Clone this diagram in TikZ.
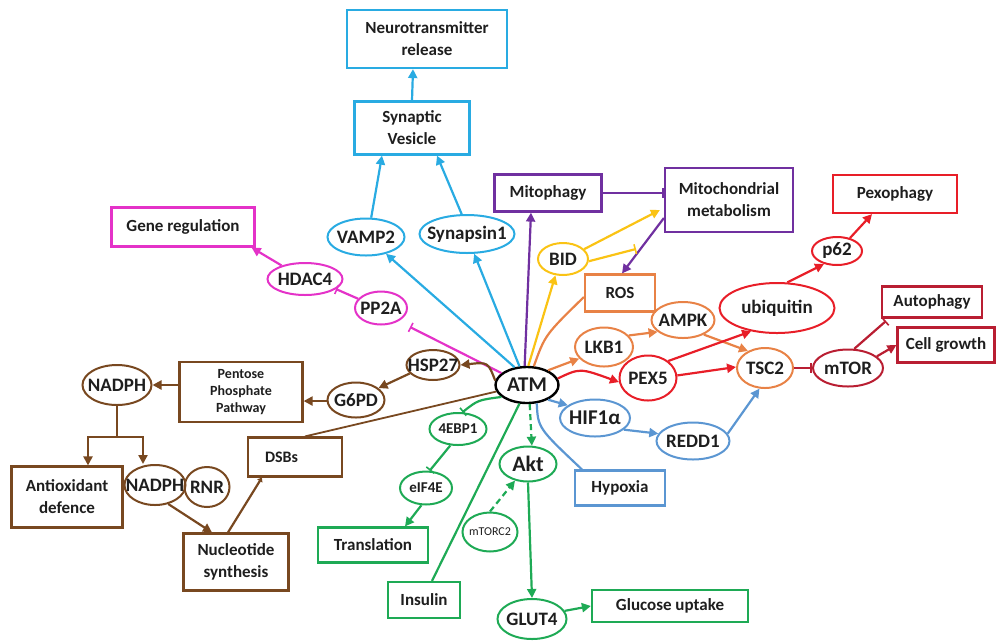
\documentclass[tikz,border=0pt]{standalone}
\usepackage{fontspec}
\setmainfont{Carlito}
\usetikzlibrary{arrows.meta,shapes.geometric,calc}
\definecolor{cyanC}{RGB}{41,171,226}
\definecolor{purpC}{RGB}{112,48,160}
\definecolor{yelC}{RGB}{250,195,20}
\definecolor{orC}{RGB}{232,130,70}
\definecolor{redC}{RGB}{232,30,40}
\definecolor{dredC}{RGB}{185,30,50}
\definecolor{lblueC}{RGB}{91,150,210}
\definecolor{greenC}{RGB}{30,170,85}
\definecolor{magC}{RGB}{228,50,200}
\definecolor{brownC}{RGB}{120,72,32}
\definecolor{txt}{RGB}{30,30,30}
\newcommand\ctext[1]{\makebox[0pt]{#1}}
\begin{document}
\begin{tikzpicture}[x=1pt,y=-1pt,
  ell/.style={ellipse, draw, line width=2pt, inner sep=0pt, text=txt, font=\bfseries\fontsize{19}{21}\selectfont},
  bx/.style={rectangle, draw, line width=2.2pt, inner sep=2pt, text=txt, align=center, font=\bfseries\fontsize{17}{22}\selectfont},
  con/.style={line width=2.2pt},
  arr/.style={con, -{Triangle[length=9pt,width=9pt]}},
  inh/.style={con, -{Bar[width=10pt,line width=1.6pt]}}]
\useasboundingbox (0,0) rectangle (998,641);

% ---- boxes ----
\node[bx, draw=cyanC, minimum width=160, minimum height=58] (NR) at (427,39) {Neurotransmitter\\release};
\node[bx, draw=cyanC, minimum width=115, minimum height=53] (SV) at (412,128) {Synaptic\\Vesicle};
\node[bx, draw=purpC, minimum width=107, minimum height=37] (Mito) at (548,193) {Mitophagy};
\node[bx, draw=purpC, minimum width=128, minimum height=64] (MM) at (729,200) {Mitochondrial\\metabolism};
\node[bx, draw=orC, minimum width=70, minimum height=37] (ROS) at (620,293) {ROS};
\node[bx, draw=redC, minimum width=124, minimum height=38] (Pex) at (895,194) {Pexophagy};
\node[bx, draw=dredC, minimum width=100, minimum height=31] (Auto) at (932,302) {Autophagy};
\node[bx, draw=dredC, minimum width=97, minimum height=35] (CG) at (946,345) {Cell growth};
\node[bx, draw=lblueC, minimum width=90, minimum height=35] (Hyp) at (620,488) {Hypoxia};
\node[bx, draw=greenC, minimum width=110, minimum height=35] (Tr) at (373,545) {Translation};
\node[bx, draw=greenC, minimum width=72, minimum height=36] (Ins) at (424,600) {Insulin};
\node[bx, draw=greenC, minimum width=156, minimum height=32] (GU) at (670,606) {Glucose uptake};
\node[bx, draw=magC, minimum width=143, minimum height=39] (GR) at (183,227) {Gene regulation};
\node[bx, draw=brownC, minimum width=123, minimum height=60, font=\bfseries\fontsize{14}{17}\selectfont] (PPP) at (241,392) {Pentose\\Phosphate\\Pathway};
\node[bx, draw=brownC, minimum width=111, minimum height=61] (AO) at (67,497) {Antioxidant\\defence};
\node[bx, draw=brownC, minimum width=105, minimum height=57] (NS) at (236,562) {Nucleotide\\synthesis};
\node[bx, draw=brownC, minimum width=94, minimum height=39, text width=60, inner xsep=17, align=left, font=\bfseries\fontsize{16}{18}\selectfont] (DSB) at (295,457) {DSBs};

% ---- ellipses ----
\node[ell, draw=cyanC, minimum width=77, minimum height=37] (VAMP2) at (366,237) {\ctext{VAMP2}};
\node[ell, draw=cyanC, minimum width=95, minimum height=38] (Syn) at (467,234) {\ctext{Synapsin1}};
\node[ell, draw=yelC, minimum width=50, minimum height=32] (BID) at (563,259) {\ctext{BID}};
\node[ell, draw=orC, minimum width=63, minimum height=36] (AMPK) at (683,320) {\ctext{AMPK}};
\node[ell, draw=redC, minimum width=115, minimum height=50] (ubiq) at (777,308) {\ctext{ubiquitin}};
\node[ell, draw=redC, minimum width=50, minimum height=28] (p62) at (837,251) {\ctext{p62}};
\node[ell, draw=orC, minimum width=58, minimum height=39] (LKB1) at (604,347) {\ctext{LKB1}};
\node[ell, draw=redC, minimum width=57, minimum height=45] (PEX5) at (648,378) {\ctext{PEX5}};
\node[ell, draw=orC, minimum width=56, minimum height=40] (TSC2) at (765,368) {\ctext{TSC2}};
\node[ell, draw=dredC, minimum width=70, minimum height=37] (mTOR) at (848,368) {\ctext{mTOR}};
\node[ell, draw=lblueC, minimum width=70, minimum height=37, font=\bfseries\fontsize{21}{23}\selectfont] (HIF) at (595,418) {\ctext{HIF1α}};
\node[ell, draw=lblueC, minimum width=73, minimum height=37] (REDD1) at (693,441) {\ctext{REDD1}};
\node[ell, draw=black, line width=2.4pt, minimum width=63, minimum height=36, font=\bfseries\fontsize{21}{23}\selectfont] (ATM) at (527,385) {\ctext{ATM}};
\node[ell, draw=brownC, minimum width=53, minimum height=30] (HSP27) at (433,365) {\ctext{HSP27}};
\node[ell, draw=brownC, minimum width=57, minimum height=35] (G6PD) at (356,400) {\ctext{G6PD}};
\node[ell, draw=greenC, minimum width=57, minimum height=32, font=\bfseries\fontsize{15}{17}\selectfont] (EBP) at (458,429) {\ctext{4EBP1}};
\node[ell, draw=greenC, minimum width=52, minimum height=33, font=\bfseries\fontsize{15}{17}\selectfont] (eIF) at (426,488) {\ctext{eIF4E}};
\node[ell, draw=greenC, minimum width=57, minimum height=35, font=\bfseries\fontsize{22}{24}\selectfont] (Akt) at (528,464) {\ctext{Akt}};
\node[ell, draw=greenC, minimum width=55, minimum height=39, font=\fontsize{12}{14}\selectfont] (mTORC2) at (490,532) {\ctext{mTORC2}};
\node[ell, draw=greenC, minimum width=69, minimum height=40] (GLUT4) at (532,619) {\ctext{GLUT4}};
\node[ell, draw=magC, minimum width=75, minimum height=32] (HDAC4) at (305,279) {\ctext{HDAC4}};
\node[ell, draw=magC, minimum width=52, minimum height=33] (PP2A) at (381,308) {\ctext{PP2A}};
\node[ell, draw=brownC, minimum width=69, minimum height=40] (NADPHa) at (117,385) {\ctext{NADPH}};
\node[ell, draw=brownC, minimum width=61, minimum height=40] (NADPHb) at (155,485) {\ctext{NADPH}};
\node[ell, draw=brownC, minimum width=45, minimum height=40] (RNR) at (207,487) {\ctext{RNR}};

% free ends
\coordinate (bidbar) at (636,249);
\coordinate (autobar) at (886,321);
\coordinate (ppbar) at (410,327);
\coordinate (nj) at (117,437);

% ---- cyan ----
\draw[arr, cyanC] (ATM.125) -- (VAMP2.-40);
\draw[arr, cyanC] (ATM.112) -- (Syn.-70);
\draw[arr, cyanC] (VAMP2.75) -- ([xshift=-30pt]SV.south);
\draw[arr, cyanC] (Syn.105) -- ([xshift=25pt]SV.south);
\draw[arr, cyanC] (SV.north) -- ([xshift=-14pt]NR.south);
% ---- purple ----
\draw[arr, purpC] (ATM.97) -- ([xshift=-17pt]Mito.south);
\draw[inh, purpC] (Mito.east) -- (Mito.east -| MM.west);
\draw[arr, purpC] ([yshift=-18pt]MM.west) -- ([xshift=2pt]ROS.north);
% ---- yellow ----
\draw[arr, yelC] (ATM.86) -- (BID.-115);
\draw[arr, yelC] (BID.25) -- ([xshift=-4pt,yshift=-10pt]MM.west);
\draw[inh, yelC] (BID.-5) -- (bidbar);
% ---- orange ----
\draw[con, orC] (ATM.70) .. controls (545,335) .. ([yshift=-4pt]ROS.west);
\draw[arr, orC] (ATM.35) -- (LKB1.205);
\draw[arr, orC] (LKB1.25) -- (AMPK.205);
\draw[arr, orC] (AMPK.-35) -- (TSC2.135);
% ---- red ----
\draw[arr, redC] (ATM.12) .. controls (580,368) .. (PEX5.188);
\draw[arr, redC] (PEX5.40) -- (ubiq.222);
\draw[arr, redC] (PEX5.5) -- (TSC2.178);
\draw[arr, redC] (ubiq.68) -- (p62.225);
\draw[arr, redC] (p62.45) -- ([xshift=-23pt]Pex.south);
% ---- dark red ----
\draw[inh, dredC] (TSC2.east) -- (mTOR.west);
\draw[inh, dredC] (mTOR.72) -- (autobar);
\draw[arr, dredC] (mTOR.22) -- (CG.west);
% ---- light blue ----
\draw[arr, lblueC] (ATM.-35) -- (HIF.155);
\draw[arr, lblueC] (HIF.-22) -- (REDD1.168);
\draw[arr, lblueC] (REDD1.12) -- (TSC2.-105);
\draw[con, lblueC] (ATM.-62) .. controls (538,428) .. ([xshift=8pt]Hyp.north west);
% ---- green ----
\draw[inh, greenC] (ATM.205) .. controls (478,400) .. (EBP.75);
\draw[inh, greenC] (EBP.-115) -- (eIF.78);
\draw[arr, greenC] (eIF.-105) -- ([xshift=32pt]Tr.north);
\draw[con, greenC] ([xshift=8pt]Ins.north) -- (ATM.-112);
\draw[arr, greenC, dash pattern=on 6pt off 4pt] (ATM.-82) -- (Akt.78);
\draw[arr, greenC, dash pattern=on 6pt off 4pt] (mTORC2.north) -- (Akt.-128);
\draw[arr, greenC] (Akt.south) -- (GLUT4.north);
\draw[arr, greenC] (GLUT4.14) -- (GU.west);
% ---- magenta ----
\draw[inh, magC] (ATM.155) -- (ppbar);
\draw[inh, magC] (PP2A.158) -- (HDAC4.-18);
\draw[arr, magC] (HDAC4.150) -- ([xshift=-4pt]GR.south east);
% ---- brown ----
\draw[arr, brownC] (ATM.172) .. controls (488,362) .. (HSP27.east);
\draw[arr, brownC] (HSP27.200) -- (G6PD.28);
\draw[arr, brownC] (G6PD.182) -- (G6PD.182 -| PPP.east);
\draw[arr, brownC] (PPP.west |- NADPHa.east) -- (NADPHa.east);
\draw[con, brownC] (NADPHa.south) -- (nj);
\draw[arr, brownC] (nj) -| ([xshift=21pt]AO.north);
\draw[arr, brownC] (nj) -| ([xshift=-12pt]NADPHb.north);
\draw[arr, brownC] (NADPHb.-55) -- ([xshift=-24pt]NS.north);
\draw[con, brownC, -{Triangle[length=4pt,width=6pt]}] ([xshift=-8pt]NS.north) -- ([xshift=15pt]DSB.south west);
\draw[con, brownC, line width=1.8pt] ([xshift=10pt]DSB.north) -- (ATM.192);
\end{tikzpicture}
\end{document}
